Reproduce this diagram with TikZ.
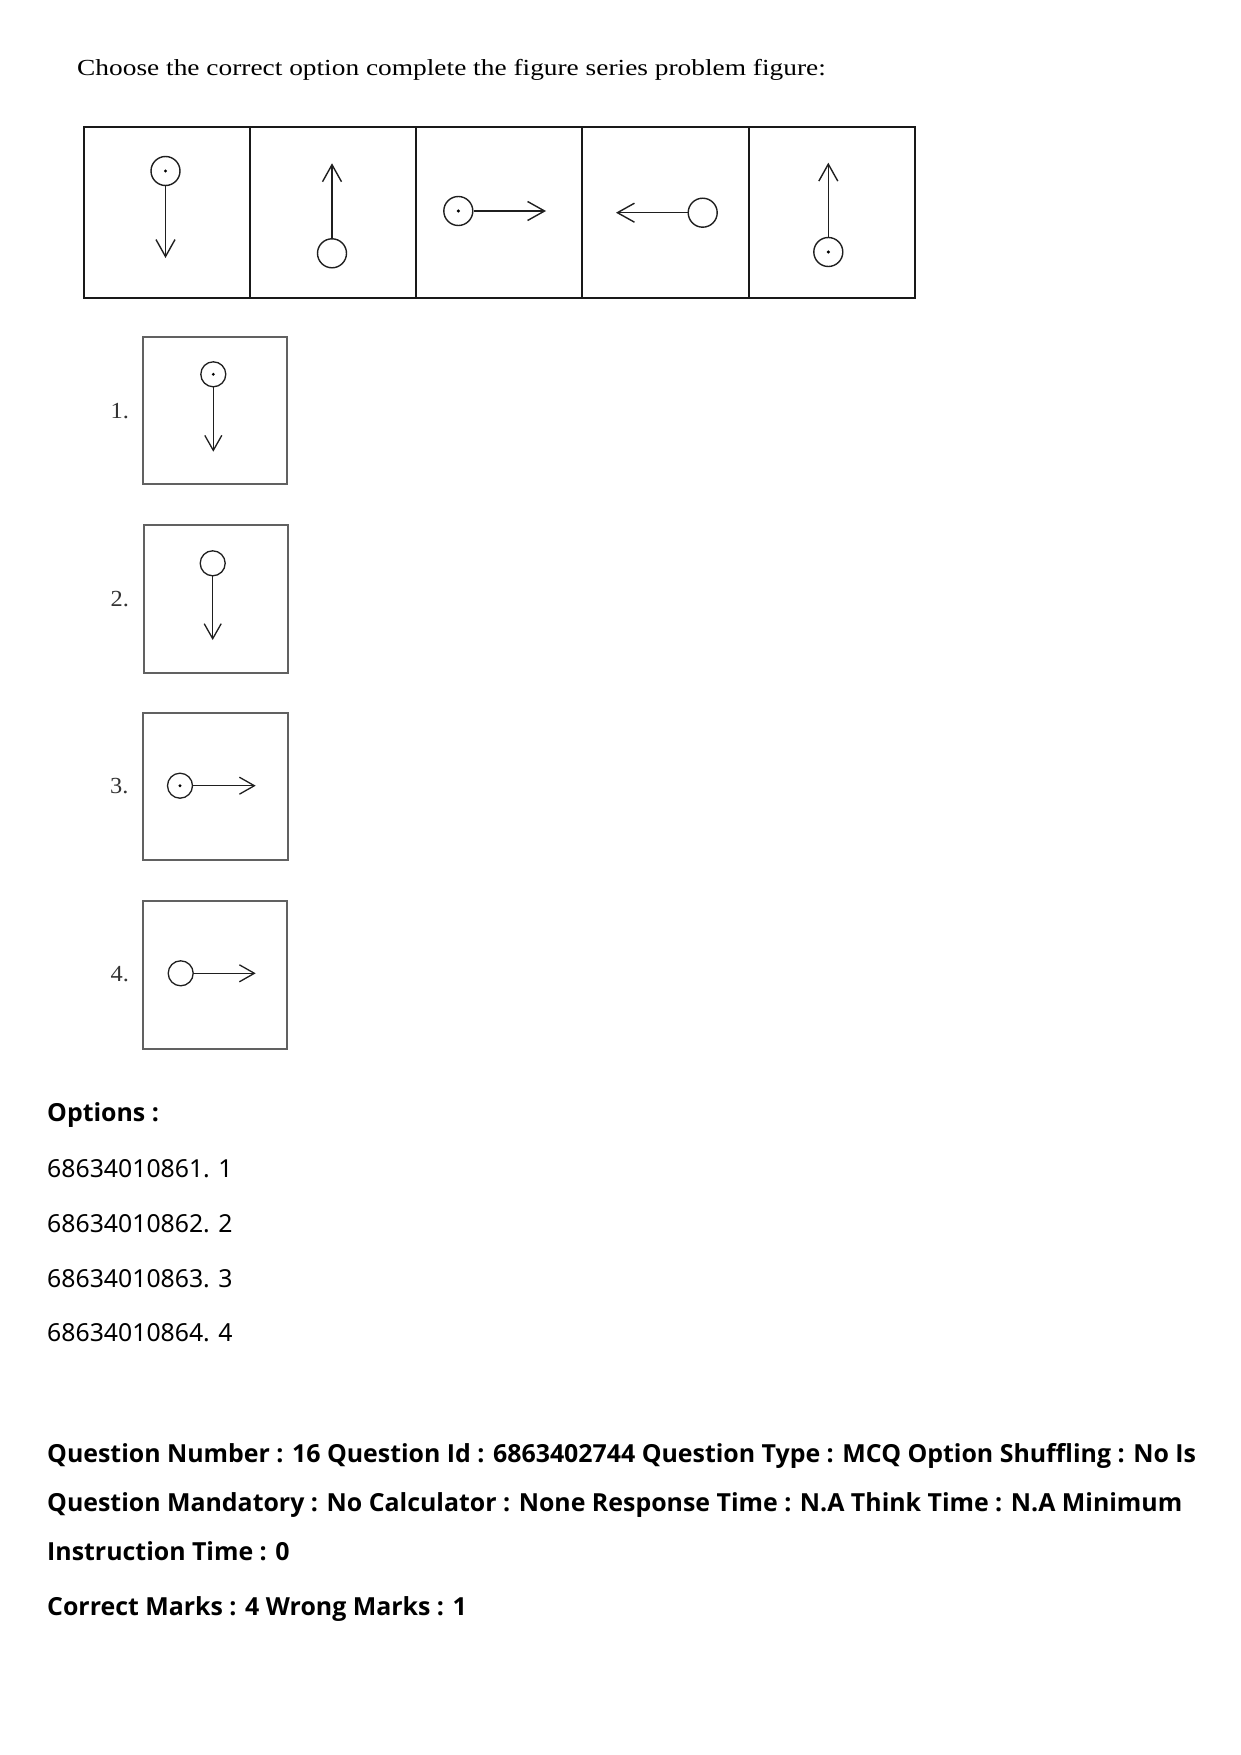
\documentclass[tikz,border=0pt]{standalone}
\usepackage{graphicx}
\usepackage{fontspec}
\setmainfont{Liberation Serif}
\newfontfamily\notosans{Noto Sans}
\newfontfamily\opensans{Open Sans}
\usetikzlibrary{arrows.meta}
\tikzset{
  cell/.style={draw=black!90, line width=2pt, minimum width=166.2pt, minimum height=171pt, inner sep=0pt, anchor=north west},
  optbox/.style={draw=black!62, line width=2pt, inner sep=0pt, anchor=north west},
  ring/.style={circle, draw=black!88, line width=1.4pt, minimum size=29pt, inner sep=0pt},
  dotring/.style={ring, path picture={\fill[black] (path picture bounding box.center) circle (1.7pt);}},
  sring/.style={circle, draw=black!88, line width=1.3pt, minimum size=25pt, inner sep=0pt},
  sdotring/.style={sring, path picture={\fill[black] (path picture bounding box.center) circle (1.6pt);}},
  arr/.style={draw=black!88, line width=1.4pt, -{Straight Barb[length=17pt,width=19pt,line width=1.4pt]}},
  sarr/.style={draw=black!88, line width=1.3pt, -{Straight Barb[length=15pt,width=17pt,line width=1.3pt]}},
  txt/.style={anchor=base west, inner sep=0pt},
  serif/.style={txt, font=\fontsize{23}{27}\selectfont},
  lbl/.style={txt, font=\fontsize{23}{27}\selectfont, text=black!80},
  body/.style={txt, font=\notosans\fontsize{24.8}{29}\selectfont},
  bodyb/.style={txt, font=\opensans\bfseries\fontsize{24.9}{29}\selectfont},
}
\begin{document}
\begin{tikzpicture}[x=1pt,y=-1pt]
\useasboundingbox[fill=white] (0,0) rectangle (1240,1755);

% title
\node[serif] (title) at (77,76) {\scalebox{1.19}[1]{Choose the correct option complete the figure series problem figure:}};

% problem figure row
\node[cell] (p1) at (82.7,126) {};
\node[cell] (p2) at (248.9,126) {};
\node[cell] (p3) at (415.1,126) {};
\node[cell] (p4) at (581.3,126) {};
\node[cell] (p5) at (747.5,126) {};

% cell 1
\node[dotring] (c1) at (165.5,171) {};
\coordinate (t1) at (165.5,258);
\draw[arr] (c1) -- (t1);
% cell 2
\node[ring] (c2) at (332,253.3) {};
\coordinate (t2) at (332,163.3);
\draw[arr] (c2) -- (t2);
% cell 3
\node[dotring] (c3) at (458.3,211) {};
\coordinate (t3) at (546,211);
\draw[arr] (c3) -- (t3);
% cell 4
\node[ring] (c4) at (702.7,212.7) {};
\coordinate (t4) at (616,212.7);
\draw[arr] (c4) -- (t4);
% cell 5
\node[dotring] (c5) at (828.3,252) {};
\coordinate (t5) at (828.3,162.7);
\draw[arr] (c5) -- (t5);

% answer figures
\node[optbox, minimum width=144.3pt, minimum height=147.3pt] (o1) at (141.7,336) {};
\node[optbox, minimum width=144pt, minimum height=147.4pt] (o2) at (142.7,524.3) {};
\node[optbox, minimum width=145.6pt, minimum height=147pt] (o3) at (141.7,712.3) {};
\node[optbox, minimum width=143.7pt, minimum height=148.3pt] (o4) at (142.3,900) {};

\node[lbl] (l1) at (110.5,418) {\scalebox{1.06}[1]{1.}};
\node[lbl] (l2) at (110.5,606.7) {\scalebox{1.06}[1]{2.}};
\node[lbl] (l3) at (110,793.3) {\scalebox{1.06}[1]{3.}};
\node[lbl] (l4) at (110.5,981) {\scalebox{1.06}[1]{4.}};

\node[sdotring] (a1) at (213.3,374.3) {};
\coordinate (u1) at (213.3,451.7);
\draw[sarr] (a1) -- (u1);
\node[sring] (a2) at (212.7,563.3) {};
\coordinate (u2) at (212.7,640);
\draw[sarr] (a2) -- (u2);
\node[sdotring] (a3) at (180,785.7) {};
\coordinate (u3) at (255.7,785.7);
\draw[sarr] (a3) -- (u3);
\node[sring] (a4) at (180.7,973.3) {};
\coordinate (u4) at (255.7,973.3);
\draw[sarr] (a4) -- (u4);

% options text
\node[bodyb] (opts) at (47,1121.7) {Options :};
\node[body] (op1) at (47,1177) {68634010861. 1};
\node[body] (op2) at (47,1232) {68634010862. 2};
\node[body] (op3) at (47,1287) {68634010863. 3};
\node[body] (op4) at (47,1341.5) {68634010864. 4};

% question metadata
\node[bodyb] (q1) at (47,1462) {Question Number : 16 Question Id : 6863402744 Question Type : MCQ Option Shuffling : No Is};
\node[bodyb] (q2) at (47,1511) {Question Mandatory : No Calculator : None Response Time : N.A Think Time : N.A Minimum};
\node[bodyb] (q3) at (47,1560) {Instruction Time : 0};
\node[bodyb] (q4) at (47,1615) {Correct Marks : 4 Wrong Marks : 1};
\end{tikzpicture}
\end{document}
